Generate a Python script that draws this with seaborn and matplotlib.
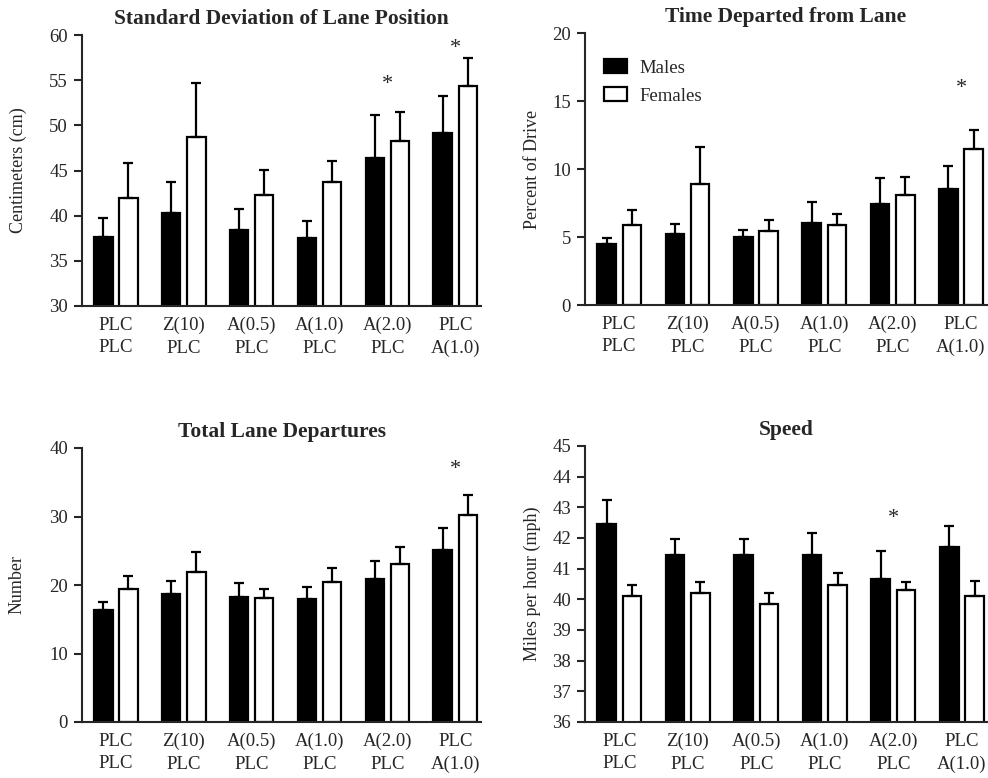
import matplotlib
matplotlib.use("Agg")
import matplotlib.pyplot as plt
import seaborn as sns
import pandas as pd

groups = ["PLC\nPLC", "Z(10)\nPLC", "A(0.5)\nPLC", "A(1.0)\nPLC", "A(2.0)\nPLC", "PLC\nA(1.0)"]
sexes = ["Males", "Females"]

# Standard Deviation of Lane Position (cm)
sdlp_m = [37.6, 40.3, 38.4, 37.5, 46.4, 49.2]
sdlp_m_top = [39.7, 43.7, 40.7, 39.4, 51.1, 53.2]
sdlp_f = [42.0, 48.7, 42.3, 43.7, 48.3, 54.4]
sdlp_f_top = [45.8, 54.7, 45.1, 46.1, 51.5, 57.4]
sdlp_star = [(4, 54.5), (5, 58.5)]

# Time Departed from Lane (% of drive)
time_m = [4.5, 5.2, 5.0, 6.05, 7.4, 8.5]
time_m_top = [4.93, 5.94, 5.52, 7.58, 9.33, 10.23]
time_f = [5.9, 8.9, 5.45, 5.9, 8.1, 11.45]
time_f_top = [6.97, 11.6, 6.26, 6.7, 9.42, 12.9]
time_star = [(5, 15.9)]

# Total Lane Departures (number)
tld_m = [16.4, 18.7, 18.2, 17.9, 20.9, 25.05]
tld_m_top = [17.57, 20.58, 20.29, 19.76, 23.55, 28.27]
tld_f = [19.4, 21.9, 18.1, 20.5, 23.07, 30.22]
tld_f_top = [21.31, 24.87, 19.46, 22.48, 25.6, 33.09]
tld_star = [(5, 36.9)]

# Speed (mph)
spd_m = [42.45, 41.43, 41.46, 41.43, 40.66, 41.71]
spd_m_top = [43.23, 41.96, 41.96, 42.16, 41.59, 42.39]
spd_f = [40.1, 40.21, 39.84, 40.48, 40.32, 40.1]
spd_f_top = [40.47, 40.57, 40.21, 40.86, 40.57, 40.61]
spd_star = [(4, 42.63)]

panels = [
    dict(title="Standard Deviation of Lane Position", ylabel="Centimeters (cm)",
         m=sdlp_m, mt=sdlp_m_top, f=sdlp_f, ft=sdlp_f_top, star=sdlp_star,
         ylim=(30, 60), ticks=[30, 35, 40, 45, 50, 55, 60],
         rect=(82, 35, 481, 306), labx=-0.137, legend=False),
    dict(title="Time Departed from Lane", ylabel="Percent of Drive",
         m=time_m, mt=time_m_top, f=time_f, ft=time_f_top, star=time_star,
         ylim=(0, 20), ticks=[0, 5, 10, 15, 20],
         rect=(585, 33, 987, 305), labx=-0.110, legend=True),
    dict(title="Total Lane Departures", ylabel="Number",
         m=tld_m, mt=tld_m_top, f=tld_f, ft=tld_f_top, star=tld_star,
         ylim=(0, 40), ticks=[0, 10, 20, 30, 40],
         rect=(82, 448, 481, 722), labx=-0.141, legend=False),
    dict(title="Speed", ylabel="Miles per hour (mph)",
         m=spd_m, mt=spd_m_top, f=spd_f, ft=spd_f_top, star=spd_star,
         ylim=(36, 45), ticks=list(range(36, 46)),
         rect=(585, 446, 988, 722), labx=-0.110, legend=False),
]

sns.set_style("ticks")
plt.rcParams["font.family"] = ["Liberation Serif", "DejaVu Serif"]
plt.rcParams["axes.linewidth"] = 1.5

W, H = 988, 778
fig = plt.figure(figsize=(W / 100, H / 100), dpi=100)

for p in panels:
    l, t, r, b = p["rect"]
    ax = fig.add_axes([l / W, 1 - b / H, (r - l) / W, (b - t) / H])
    df = pd.DataFrame({
        "group": groups * 2,
        "sex": ["Males"] * 6 + ["Females"] * 6,
        "value": p["m"] + p["f"],
    })
    sns.barplot(data=df, x="group", y="value", hue="sex", order=groups,
                hue_order=sexes, palette={"Males": "black", "Females": "white"},
                edgecolor="black", linewidth=1.6, errorbar=None,
                width=0.74, gap=0.27, ax=ax, legend=p["legend"])
    tops = {"Males": p["mt"], "Females": p["ft"]}
    for cont, sex in zip(ax.containers, sexes):
        xs = [bar.get_x() + bar.get_width() / 2 for bar in cont]
        ys = [bar.get_height() for bar in cont]
        errs = [tp - v for tp, v in zip(tops[sex], ys)]
        ax.errorbar(xs, ys, yerr=[[0] * len(errs), errs], fmt="none",
                    ecolor="black", elinewidth=1.6, capsize=3.8, capthick=1.6,
                    zorder=3)
    for gi, yv in p["star"]:
        ax.text(gi, yv, "*", ha="center", va="center", fontsize=16)
    ax.set_xlim(-0.5, 5.38)
    ax.set_ylim(*p["ylim"])
    ax.set_yticks(p["ticks"])
    ax.set_xlabel("")
    ax.set_ylabel(p["ylabel"], fontsize=13)
    ax.yaxis.set_label_coords(p["labx"], 0.5)
    ax.set_title(p["title"], fontsize=15.5, fontweight="bold", pad=8)
    ax.tick_params(axis="x", length=0, pad=8, labelsize=13.5)
    ax.tick_params(axis="y", length=6, width=1.5, pad=4, labelsize=13.5)
    for lab in ax.get_xticklabels():
        lab.set_linespacing(1.4)
    sns.despine(ax=ax)
    if p["legend"]:
        ax.legend(loc="upper left", bbox_to_anchor=(0.047, 0.905), frameon=False,
                  fontsize=13.5, handlelength=1.22, handleheight=0.8,
                  handletextpad=0.68, labelspacing=0.55, borderpad=0,
                  borderaxespad=0, title=None)

fig.savefig("out.png", dpi=100, facecolor="white")
